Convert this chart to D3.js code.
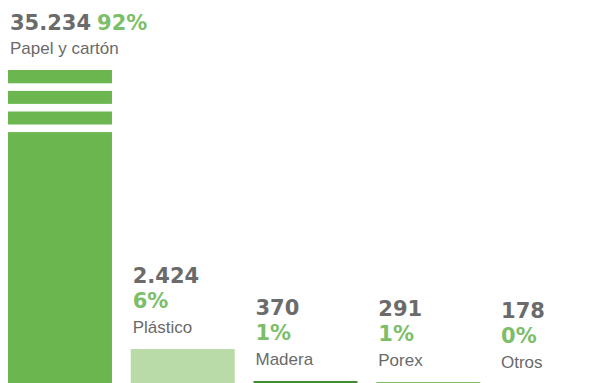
<!DOCTYPE html>
<html>
<head>
<meta charset="utf-8">
<script src="https://cdn.jsdelivr.net/npm/d3@7"></script>
<style>
  html, body { margin: 0; padding: 0; background: #fff; }
  svg { display: block; }
</style>
</head>
<body>
<svg id="chart" width="610" height="383"></svg>
<script>
// Waste collected by material (units), with share of total
const categories = ["Papel y cartón", "Plástico", "Madera", "Porex", "Otros"];
const values = [35234, 2424, 370, 291, 178];
const valueLabels = ["35.234", "2.424", "370", "291", "178"];
const shareLabels = ["92%", "6%", "1%", "1%", "0%"];
const colors = ["#6cb650", "#b9dba8", "#3e8b2f", "#4eab2a", "#8cc63f"];

// Bars taller than the visible scale are cut off and marked with a break
const scaleMax = 20330;

const svg = d3.select("#chart");

const x = d3.scaleBand()
  .domain(categories)
  .range([8, 603])
  .paddingInner(0.153)
  .paddingOuter(0);

// Baseline sits slightly below the visible area
const y = d3.scaleLinear()
  .domain([0, scaleMax])
  .range([386.8, 70])
  .clamp(true);

const data = categories.map((c, i) => ({
  cat: c, value: values[i], valueLabel: valueLabels[i],
  share: shareLabels[i], color: colors[i]
}));

// Bars
svg.append("g")
  .selectAll("rect")
  .data(data)
  .join("rect")
  .attr("x", d => x(d.cat))
  .attr("width", x.bandwidth())
  .attr("y", d => y(d.value))
  .attr("height", d => y(0) - y(d.value))
  .attr("fill", d => d.color);

// Break marks on bars exceeding the scale
data.filter(d => d.value > scaleMax).forEach(d => {
  const top = y(d.value);
  const g = svg.append("g");
  for (let i = 0; i < 3; i++) {
    g.append("rect")
      .attr("x", x(d.cat) - 1)
      .attr("width", x.bandwidth() + 2)
      .attr("y", top + 13.3 + i * 20.6)
      .attr("height", 7.6)
      .attr("fill", "#fff");
  }
});

const valueFont = "'DejaVu Sans', sans-serif";
const labelFont = "'Liberation Sans', Arial, sans-serif";
const gray = "#6b6b6b";
const green = "#7cbe69";

// Labels above each bar: value, share, category name
const labels = svg.append("g");
data.forEach(d => {
  const lx = x(d.cat) + 2;
  const labelBase = y(d.value) - 16;
  const g = labels.append("g");
  if (d.value > scaleMax) {
    const t = g.append("text")
      .attr("x", lx).attr("y", labelBase - 24)
      .attr("font-family", valueFont)
      .attr("font-size", 21).attr("font-weight", 700);
    t.append("tspan").attr("fill", gray).text(d.valueLabel);
    t.append("tspan").attr("fill", green).attr("dx", 6).text(d.share);
  } else {
    g.append("text")
      .attr("x", lx).attr("y", labelBase - 50)
      .attr("font-family", valueFont)
      .attr("font-size", 21).attr("font-weight", 700)
      .attr("fill", gray)
      .text(d.valueLabel);
    g.append("text")
      .attr("x", lx).attr("y", labelBase - 25)
      .attr("font-family", valueFont)
      .attr("font-size", 21).attr("font-weight", 700)
      .attr("fill", green)
      .text(d.share);
  }
  g.append("text")
    .attr("x", lx).attr("y", labelBase)
    .attr("font-family", labelFont)
    .attr("font-size", 17)
    .attr("fill", "#6a6a6a")
    .text(d.cat);
});
</script>
</body>
</html>
